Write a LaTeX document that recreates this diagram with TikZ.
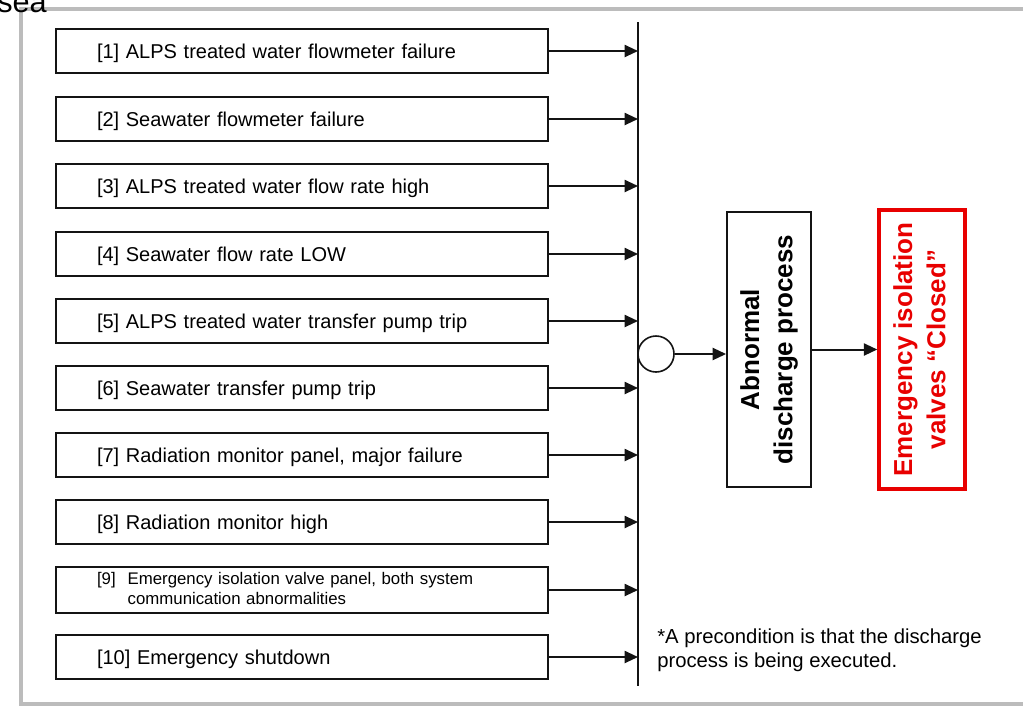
\documentclass[tikz,border=0pt]{standalone}
\usepackage{fontspec}
\setmainfont{Liberation Sans}
\usepackage{graphicx}
\usetikzlibrary{arrows.meta}
\definecolor{framegray}{RGB}{188,188,188}
\definecolor{alertred}{RGB}{232,0,0}
\definecolor{inkblack}{RGB}{20,20,20}
\begin{document}
\begin{tikzpicture}[x=0.75pt,y=-0.75pt,
  causebase/.style={draw=inkblack, line width=1.5pt, minimum height=33pt, text width=307.5pt,
    inner xsep=30.75pt, inner ysep=0pt, align=left, anchor=west},
  cause/.style={causebase, font=\fontsize{15}{18}\selectfont, text height=10.8pt, text depth=0pt},
  arr/.style={draw=inkblack, line width=1.5pt, -{Triangle[length=10pt,width=9pt]}},
  procbox/.style={draw=inkblack, line width=1.4pt, minimum width=63pt, minimum height=206.25pt,
    inner sep=0pt, font=\bfseries\fontsize{19.5}{25}\selectfont},
  alertbox/.style={draw=alertred, line width=2.6pt, minimum width=64.5pt, minimum height=209pt,
    inner sep=0pt, text=alertred, font=\bfseries\fontsize{19.5}{25}\selectfont},
  junction/.style={draw=inkblack, circle, line width=1.2pt, minimum size=27pt, inner sep=0pt},
  note/.style={font=\fontsize{15.2}{18}\selectfont, align=left, inner sep=0pt}
]
\useasboundingbox (0,0) rectangle (1023,708);
% outer frame
\draw[framegray, line width=2.3pt] (1040,9) -- (21,9) -- (21,704) -- (1040,704);
\node[font=\fontsize{23}{27}\selectfont, anchor=base west, inner sep=0pt] (sea) at (-3,12.5) {sea};

% cause boxes
\node[cause] (b1) at (55,51) {[1] ALPS treated water flowmeter failure};
\node[cause] (b2) at (55,119) {[2] Seawater flowmeter failure};
\node[cause] (b3) at (55,186) {[3] ALPS treated water flow rate high};
\node[cause] (b4) at (55,254) {[4] Seawater flow rate LOW};
\node[cause] (b5) at (55,321) {[5] ALPS treated water transfer pump trip};
\node[cause] (b6) at (55,388) {[6] Seawater transfer pump trip};
\node[cause] (b7) at (55,455) {[7] Radiation monitor panel, major failure};
\node[cause] (b8) at (55,522) {[8] Radiation monitor high};
\node[causebase, minimum height=34pt, font=\fontsize{12.6}{15}\selectfont] (b9) at (55,590) {\begin{tabular}{@{}l@{\hspace{9pt}}l@{}}[9] & Emergency isolation valve panel, both system\\ & communication abnormalities\end{tabular}};
\node[cause] (b10) at (55,657) {[10] Emergency shutdown};

% bus
\coordinate (bustop) at (638,22);
\coordinate (busbot) at (638,686);
\draw[inkblack, line width=1.5pt] (bustop) -- (busbot);
\foreach \i in {1,...,10}{
  \draw[arr] (b\i.east) -- (b\i.east -| bustop);
}

% junction and process
\node[junction] (jn) at (656,354) {};
\node[procbox] (abn) at (769,349.5) {\rotatebox{90}{\begin{tabular}{@{}c@{}}Abnormal\\discharge process\end{tabular}}};
\node[alertbox] (valves) at (922,349.5) {\rotatebox{90}{\begin{tabular}{@{}c@{}}Emergency isolation\\valves “Closed”\end{tabular}}};
\draw[arr] (jn.east) -- (jn.east -| abn.west);
\draw[arr] (abn.east) -- (valves.west);

% note
\node[note, anchor=north west] (pre) at (657,629) {*A precondition is that the discharge\\process is being executed.};
\end{tikzpicture}
\end{document}
